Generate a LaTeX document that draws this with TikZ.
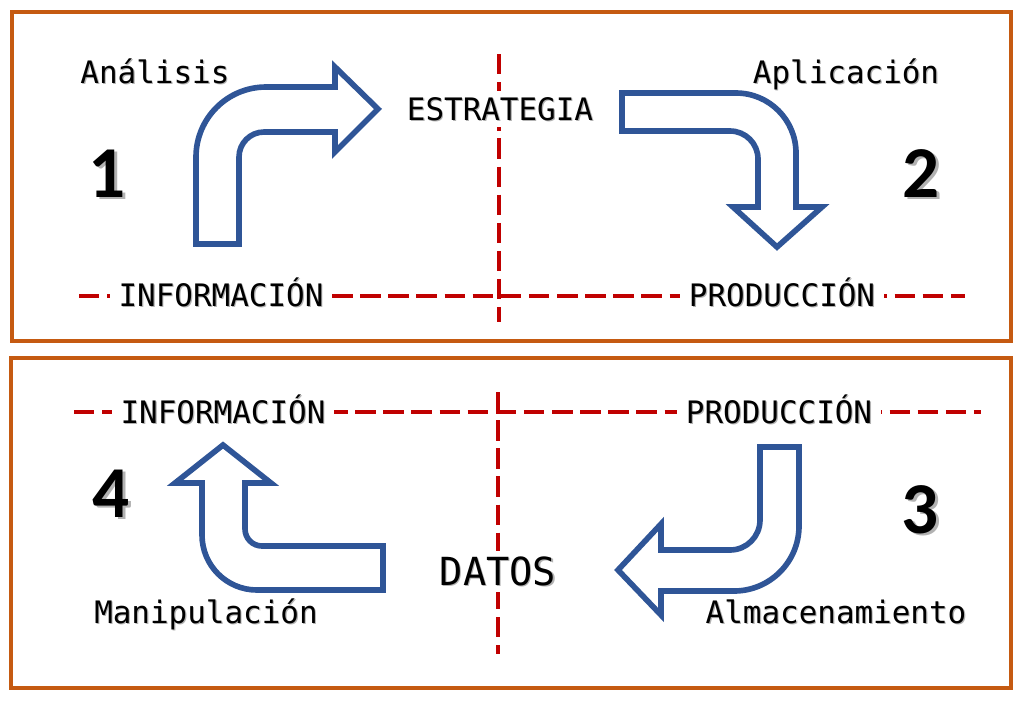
\documentclass[tikz,border=0pt]{standalone}
\usepackage{fontspec}
\setmonofont{DejaVu Sans Mono}
\newfontfamily\numfont{Carlito}

\definecolor{orangeframe}{RGB}{197,90,17}
\definecolor{bluearrow}{RGB}{47,85,151}
\definecolor{reddash}{RGB}{192,0,0}

% text with a soft grey shadow
\newcommand{\shadowed}[2][0.8pt]{\rlap{\kern#1\raisebox{-#1}{\color{black!30}#2}}#2}

\begin{document}
\begin{tikzpicture}[x=0.025cm, y=-0.025cm,
    frame/.style={draw=orangeframe, line width=2.8pt},
    guide/.style={draw=reddash, line width=2.2pt, dash pattern=on 14.5pt off 5.5pt},
    lbl/.style={font=\ttfamily\fontsize{22}{26}\selectfont, anchor=base, inner sep=0pt},
    gap/.style={lbl, fill=white, inner xsep=6pt, inner ysep=4pt},
    num/.style={font=\numfont\bfseries\fontsize{52}{60}\selectfont, anchor=base, inner sep=0pt},
    bigarrow/.style={draw=bluearrow, fill=white, line width=4pt}]

    \useasboundingbox (0,0) rectangle (1024,700);

    % Frames
    \draw[frame] (12,12) rectangle (1011,341);
    \draw[frame] (11,358) rectangle (1011,688);

    % Dashed guides
    \draw[guide] (79,296) -- (965,296);
    \draw[guide] (499,54) -- (499,322);
    \draw[guide] (74,412) -- (981,412);
    \draw[guide] (498,392) -- (498,654);

    % Top half
    \node[lbl] (analisis) at (155,83) {\shadowed{Análisis}};
    \node[gap] (estrategia) at (500,120) {\shadowed{ESTRATEGIA}};
    \node[lbl] (aplicacion) at (846,83) {\shadowed{Aplicación}};
    \node[gap] (infotop) at (221,306) {\shadowed{INFORMACIÓN}};
    \node[gap] (prodtop) at (782,306) {\shadowed{PRODUCCIÓN}};
    \node[num] (one) at (107,197) {\shadowed[2pt]{1}};
    \node[num] (two) at (921,197) {\shadowed[2pt]{2}};

    % Bottom half
    \node[gap] (infobot) at (223,423) {\shadowed{INFORMACIÓN}};
    \node[gap] (prodbot) at (779,423) {\shadowed{PRODUCCIÓN}};
    \node[gap, font=\ttfamily\fontsize{27.5}{32}\selectfont] (datos) at (498,585) {\shadowed{DATOS}};
    \node[lbl] (manipulacion) at (206,623) {\shadowed{Manipulación}};
    \node[lbl] (almacenamiento) at (836,623) {\shadowed{Almacenamiento}};
    \node[num] (four) at (111,517) {\shadowed[2pt]{4}};
    \node[num] (three) at (920,533) {\shadowed[2pt]{3}};

    % Bent arrows
    \draw[bigarrow] (196,244) -- (196,157) .. controls (196,118.3) and (227.3,87) .. (266,87)
        -- (335,87) -- (335,67) -- (378,109) -- (335,152) -- (335,132) -- (264,132)
        .. controls (250.2,132) and (239,143.2) .. (239,157) -- (239,244) -- cycle;
    \draw[bigarrow] (622,93) -- (736,93) .. controls (769.1,93) and (796,119.9) .. (796,153)
        -- (796,207) -- (822,207) -- (777,247) -- (733,207) -- (758,207) -- (758,159)
        .. controls (758,143.5) and (745.5,131) .. (730,131) -- (622,131) -- cycle;
    \draw[bigarrow] (760,447) -- (799,447) -- (799,526) .. controls (799,561.9) and (769.9,591) .. (734,591)
        -- (661,591) -- (661,615) -- (618,570) -- (661,524) -- (661,550) -- (730,550)
        .. controls (746.6,550) and (760,536.6) .. (760,520) -- cycle;
    \draw[bigarrow] (383,546) -- (262,546) .. controls (252.6,546) and (245,538.4) .. (245,529)
        -- (245,483) -- (271,483) -- (223,445) -- (175,483) -- (202,483) -- (202,535)
        .. controls (202,565.4) and (226.6,590) .. (257,590) -- (383,590) -- cycle;
\end{tikzpicture}
\end{document}
